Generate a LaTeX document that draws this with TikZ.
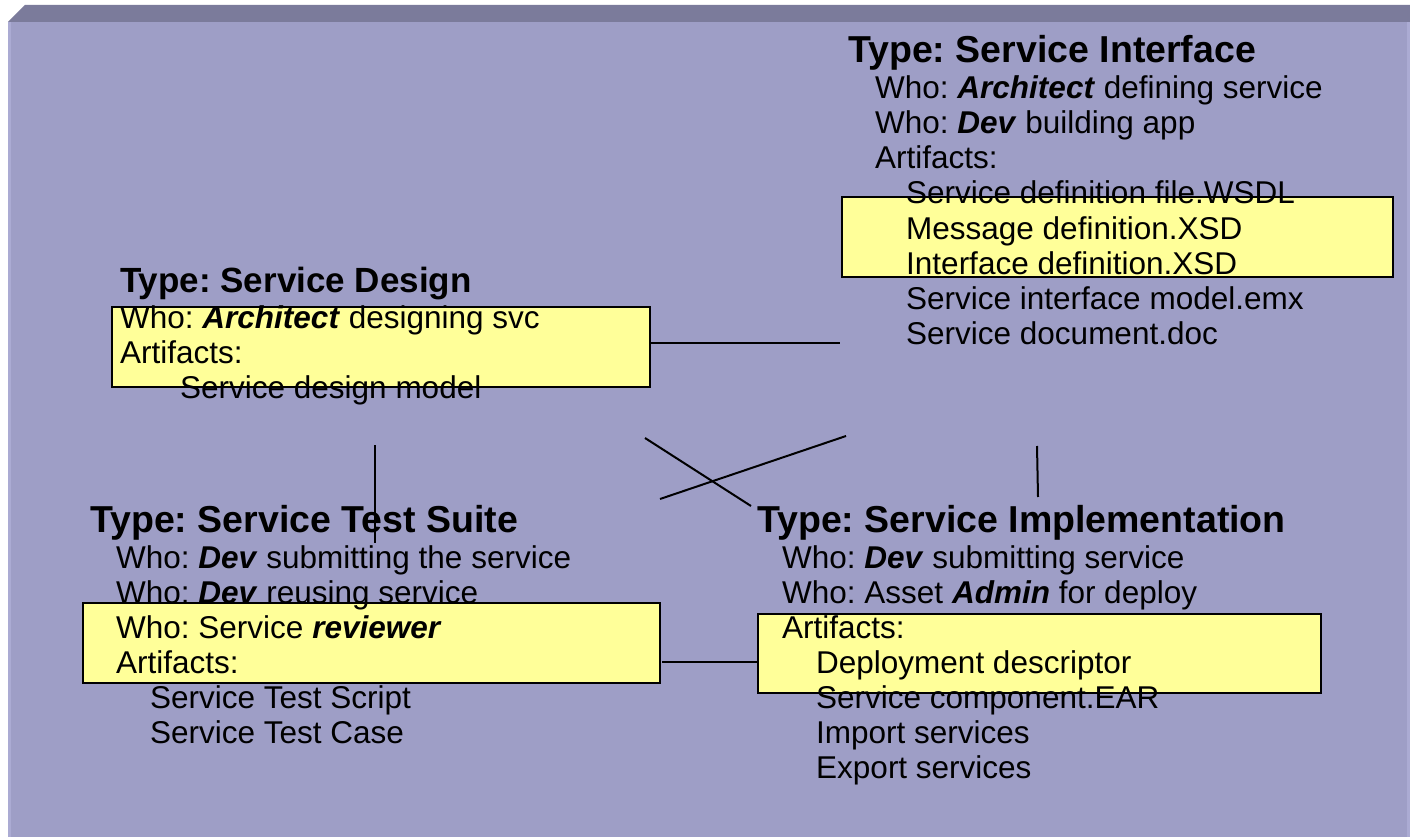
\documentclass[tikz,border=0pt]{standalone}
\usepackage{fontspec}
\setmainfont{Liberation Sans}
\frenchspacing
\definecolor{panelface}{HTML}{9E9EC6}
\definecolor{paneltop}{HTML}{7B7B9B}
\definecolor{paneledge}{HTML}{ABABD3}
\definecolor{boxyellow}{HTML}{FFFF99}
\newcommand{\role}[1]{\textbf{\textit{#1}}}

\begin{document}
\begin{tikzpicture}[x=1pt,y=-1pt,
    ybox/.style={draw=black, line width=2pt, fill=boxyellow, inner sep=0pt},
    title/.style={font=\fontsize{37.5}{42}\selectfont\bfseries, anchor=base west, inner sep=0pt},
    body/.style={font=\fontsize{31.5}{35}\selectfont, anchor=base west, inner sep=0pt},
    link/.style={line width=2pt}]
      \useasboundingbox (0,0) rectangle (1410,837);
      % panel
      \fill[white] (0,0) rectangle (1410,837);
      \fill[paneltop] (8,22) -- (25,5) -- (1410,5) -- (1410,22) -- cycle;
      \fill[panelface] (8,22) rectangle (1410,837);
      \fill[paneledge] (8,22) rectangle (11,837);
      \fill[paneledge] (1407,22) rectangle (1410,837);
      % yellow boxes
      \node[ybox, minimum width=551pt, minimum height=80pt] (intbox) at (1117.5,237) {};
      \node[ybox, minimum width=538pt, minimum height=80pt] (dsgbox) at (381,347) {};
      \node[ybox, minimum width=577pt, minimum height=80pt] (tstbox) at (371.5,643) {};
      \node[ybox, minimum width=563pt, minimum height=79pt] (impbox) at (1039.5,653.5) {};
      % Service Interface
      \node[title] (inttitle) at (848,63) {Type: Service Interface};
      \foreach \x/\txt [count=\i from 0] in {875/{Who: \role{Architect} defining service},
          875/{Who: \role{Dev} building app}, 875/{Artifacts:},
          906/{Service definition file.WSDL}, 906/{Message definition.XSD},
          906/{Interface definition.XSD}, 906/{Service interface model.emx},
          906/{Service document.doc}}
        \node[body] (int-\i) at (\x,{99+35*\i}) {\txt};
      % Service Design
      \node[title, font=\fontsize{35}{40}\selectfont\bfseries] (dsgtitle) at (120,292) {Type: Service Design};
      \foreach \x/\txt [count=\i from 0] in {120/{Who: \role{Architect} designing svc},
          120/{Artifacts:}, 180/{Service design model}}
        \node[body] (dsg-\i) at (\x,{328+35*\i}) {\txt};
      % Service Test Suite
      \node[title] (tsttitle) at (90,532) {Type: Service Test Suite};
      \foreach \x/\txt [count=\i from 0] in {116/{Who: \role{Dev} submitting the service},
          116/{Who: \role{Dev} reusing service}, 116/{Who: Service \role{reviewer}},
          116/{Artifacts:}, 150/{Service Test Script}, 150/{Service Test Case}}
        \node[body] (tst-\i) at (\x,{568+35*\i}) {\txt};
      % Service Implementation
      \node[title] (imptitle) at (757,532) {Type: Service Implementation};
      \foreach \x/\txt [count=\i from 0] in {782/{Who: \role{Dev} submitting service},
          782/{Who: Asset \role{Admin} for deploy}, 782/{Artifacts:},
          816/{Deployment descriptor}, 816/{Service component.EAR},
          816/{Import services}, 816/{Export services}}
        \node[body] (imp-\i) at (\x,{568+35*\i}) {\txt};
      % connectors
      \coordinate (dsgout) at (650,343);
      \coordinate (intin) at (840,343);
      \coordinate (dsgdown) at (375,445);
      \coordinate (tstup) at (375,543);
      \coordinate (dsgcross) at (645,438);
      \coordinate (impcross) at (751,506);
      \coordinate (tstcross) at (660,499);
      \coordinate (intcross) at (846,436);
      \coordinate (intdown) at (1037,446);
      \coordinate (impup) at (1038,497);
      \coordinate (tstout) at (662,662);
      \coordinate (impin) at (758,662);
      \draw[link] (dsgout) -- (intin);
      \draw[link] (dsgdown) -- (tstup);
      \draw[link] (dsgcross) -- (impcross);
      \draw[link] (tstcross) -- (intcross);
      \draw[link] (intdown) -- (impup);
      \draw[link] (tstout) -- (impin);
    \end{tikzpicture}
\end{document}
